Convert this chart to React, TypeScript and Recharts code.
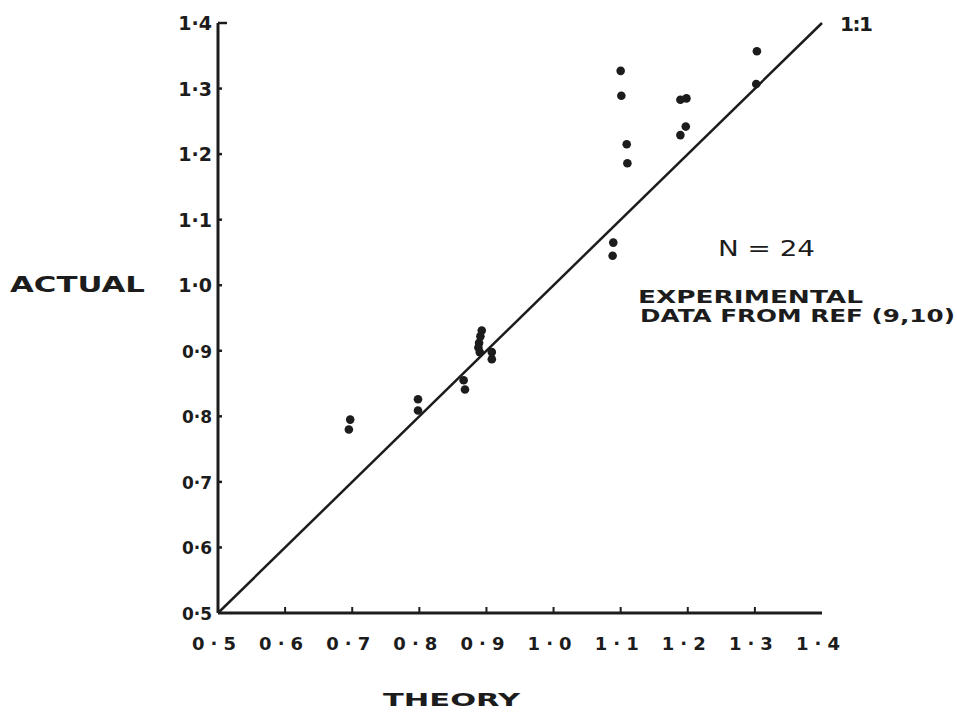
import { ScatterChart, Scatter, XAxis, YAxis, ReferenceLine } from "recharts";

// measured points, theory (x) vs actual (y)
const theory = [
  0.697, 0.695,
  0.798, 0.798,
  0.866, 0.868,
  0.893, 0.891, 0.889, 0.888, 0.890,
  0.908, 0.908,
  1.089, 1.088,
  1.100, 1.101, 1.109, 1.110,
  1.189, 1.198, 1.197, 1.189,
  1.303, 1.302,
];
const actual = [
  0.795, 0.780,
  0.826, 0.809,
  0.855, 0.841,
  0.931, 0.922, 0.912, 0.905, 0.898,
  0.898, 0.887,
  1.065, 1.045,
  1.327, 1.289, 1.215, 1.186,
  1.283, 1.285, 1.242, 1.229,
  1.357, 1.307,
];
const ticks = [0.5, 0.6, 0.7, 0.8, 0.9, 1.0, 1.1, 1.2, 1.3, 1.4];
const oneToOne = [
  { x: 0.5, y: 0.5 },
  { x: 1.4, y: 1.4 },
];

const points = theory.map((t, i) => ({ theory: t, actual: actual[i] }));

const INK = "#1c1c1c";
const FONT = "'DejaVu Sans', Verdana, sans-serif";

const fmt = (v: number) => v.toFixed(1).replace(".", "·");

const XTick = (props: any) => {
  const { x, y, payload } = props;
  const v = payload.value;
  return (
    <g>
      {v > 0.5 && v < 1.4 && (
        <line x1={x} y1={y} x2={x} y2={y - 6} stroke={INK} strokeWidth={2} />
      )}
      <text
        x={x - 4}
        y={y + 37}
        textAnchor="middle"
        fill={INK}
        fontFamily={FONT}
        fontWeight="bold"
        fontSize={18}
        textLength={44}
        lengthAdjust="spacing"
      >
        {fmt(v)}
      </text>
    </g>
  );
};

const YTick = (props: any) => {
  const { x, y, payload } = props;
  const v = payload.value;
  return (
    <g>
      {v > 0.5 && (
        <line x1={x} y1={y} x2={x + (v === 1.4 ? 9 : 4)} y2={y} stroke={INK} strokeWidth={2.5} />
      )}
      <text
        x={x - 6}
        y={y + 7}
        textAnchor="end"
        fill={INK}
        fontFamily={FONT}
        fontWeight="bold"
        fontSize={v >= 1 ? 19 : 17}
      >
        {fmt(v)}
      </text>
    </g>
  );
};

const Dot = (props: any) => <circle cx={props.cx} cy={props.cy} r={4.3} fill={INK} />;

export default function App() {
  return (
    <div style={{ position: "absolute", left: 0, top: 0, width: 957, height: 713, background: "#fff" }}>
      <ScatterChart
        width={957}
        height={713}
        margin={{ top: 23, right: 135, bottom: 60, left: 158 }}
      >
        <XAxis
          type="number"
          dataKey="theory"
          domain={[0.5, 1.4]}
          ticks={ticks}
          interval={0}
          height={40}
          tickSize={0}
          tickMargin={0}
          tickLine={false}
          tick={<XTick />}
          axisLine={{ stroke: INK, strokeWidth: 3 }}
          allowDataOverflow
        />
        <YAxis
          type="number"
          dataKey="actual"
          domain={[0.5, 1.4]}
          ticks={ticks}
          interval={0}
          width={60}
          tickSize={0}
          tickMargin={0}
          tickLine={false}
          tick={<YTick />}
          axisLine={{ stroke: INK, strokeWidth: 3 }}
          allowDataOverflow
        />
        <ReferenceLine segment={oneToOne} stroke={INK} strokeWidth={2.5} ifOverflow="extendDomain" />
        <Scatter data={points} fill={INK} shape={<Dot />} isAnimationActive={false} />
      </ScatterChart>
      <svg
        width={957}
        height={713}
        style={{ position: "absolute", left: 0, top: 0, pointerEvents: "none" }}
        fontFamily={FONT}
        fill={INK}
      >
        <text x={10} y={292} fontSize={21} fontWeight="bold" textLength={135} lengthAdjust="spacingAndGlyphs">
          ACTUAL
        </text>
        <text x={383} y={706} fontSize={17} fontWeight="bold" textLength={137} lengthAdjust="spacingAndGlyphs">
          THEORY
        </text>
        <text x={840} y={31} fontSize={20} fontWeight="bold" textLength={33} lengthAdjust="spacing">
          1:1
        </text>
        <text x={718} y={256} fontSize={21} textLength={97} lengthAdjust="spacingAndGlyphs">
          N = 24
        </text>
        <text x={638} y={303} fontSize={17} fontWeight="bold" textLength={225} lengthAdjust="spacingAndGlyphs">
          EXPERIMENTAL
        </text>
        <text x={640} y={322} fontSize={18} fontWeight="bold" textLength={315} lengthAdjust="spacingAndGlyphs">
          DATA FROM REF (9,10)
        </text>
      </svg>
    </div>
  );
}
